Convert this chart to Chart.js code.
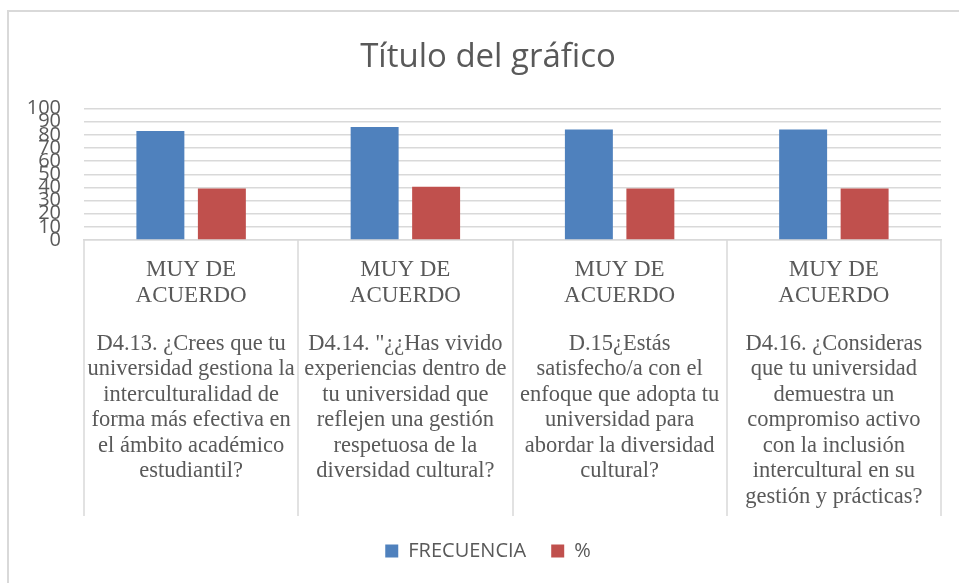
<!DOCTYPE html>
<html>
<head>
<meta charset="utf-8">
<script src="https://cdn.jsdelivr.net/npm/chart.js@4"></script>
<style>
  body { margin: 0; background: #fff; }
  #wrap { position: relative; width: 959px; height: 583px; overflow: hidden; }
  #frame { position: absolute; left: 7px; top: 10px; width: 1000px; height: 600px;
           border-left: 2px solid #D9D9D9; border-top: 2px solid #D9D9D9; }
  #chart { position: absolute; left: 0; top: 0; }
</style>
</head>
<body>
<div id="wrap">
  <div id="frame"></div>
  <canvas id="chart" width="959" height="583"></canvas>
</div>
<script>
// --- data ---
const respuesta = [
    ['MUY DE', 'ACUERDO'],
    ['MUY DE', 'ACUERDO'],
    ['MUY DE', 'ACUERDO'],
    ['MUY DE', 'ACUERDO']
];
const preguntas = [
    ['D4.13. ¿Crees que tu', 'universidad gestiona la', 'interculturalidad de', 'forma más efectiva en', 'el ámbito académico', 'estudiantil?'],
    ['D4.14. "¿¿Has vivido', 'experiencias dentro de', 'tu universidad que', 'reflejen una gestión', 'respetuosa de la', 'diversidad cultural?'],
    ['D.15¿Estás', 'satisfecho/a con el', 'enfoque que adopta tu', 'universidad para', 'abordar la diversidad', 'cultural?'],
    ['D4.16. ¿Consideras', 'que tu universidad', 'demuestra un', 'compromiso activo', 'con la inclusión', 'intercultural en su', 'gestión y prácticas?']
];
const frecuencia = [83, 86, 84, 84];
const porcentaje = [39.2, 40.5, 39.2, 39.2];

const gris = '#595959';
const linea = '#D9D9D9';

// vertical separators of the two-level category axis
const separadores = {
    id: 'separadores',
    afterLayout(chart) {
        // let the wide y labels ("100") draw left of the scale box without clipping
        chart.scales.y.left = 0;
    },
    afterDraw(chart) {
        const xs = chart.scales.x, x2 = chart.scales.x2;
        const n = respuesta.length;
        const ctx = chart.ctx;
        ctx.save();
        ctx.strokeStyle = linea;
        ctx.lineWidth = 1.5;
        for (let i = 0; i <= n; i++) {
            const px = Math.round(xs.left + i * xs.width / n);
            ctx.beginPath();
            ctx.moveTo(px, xs.top);
            ctx.lineTo(px, x2.bottom);
            ctx.stroke();
        }
        ctx.restore();
    }
};

new Chart(document.getElementById('chart'), {
    type: 'bar',
    data: {
        labels: respuesta,
        datasets: [
            { label: 'FRECUENCIA', data: frecuencia, backgroundColor: '#4F81BD' },
            { label: '%', data: porcentaje, backgroundColor: '#C0504D' }
        ]
    },
    options: {
        responsive: false,
        animation: false,
        categoryPercentage: 0.574,
        barPercentage: 0.78,
        layout: { padding: { left: 35, right: 18, top: 0, bottom: 12 } },
        plugins: {
            title: {
                display: true,
                text: 'Título del gráfico',
                color: gris,
                font: { family: 'Open Sans', size: 33, weight: 'normal' },
                padding: { top: 38, bottom: 31 }
            },
            legend: {
                position: 'bottom',
                labels: {
                    boxWidth: 13, boxHeight: 13, padding: 25,
                    color: gris,
                    font: { family: 'Open Sans', size: 20 }
                }
            }
        },
        scales: {
            y: {
                min: 0, max: 100,
                ticks: { stepSize: 10, autoSkip: false, color: gris, padding: 23,
                         font: { family: 'Open Sans', size: 20 } },
                grid: { color: linea, lineWidth: 1.5, drawTicks: false },
                border: { display: false },
                afterFit: s => { s.width = 49; }
            },
            x: {
                grid: { display: false, drawTicks: false },
                border: { color: linea, width: 1.5 },
                ticks: { autoSkip: false, maxRotation: 0, color: gris, padding: 17,
                         font: { family: 'Liberation Serif', size: 23, lineHeight: 1.13 } },
                afterFit: s => { s.height = 80; }
            },
            x2: {
                type: 'category',
                position: 'bottom',
                weight: 1,
                offset: true,
                labels: preguntas,
                grid: { display: false, drawTicks: false },
                border: { display: false },
                ticks: { autoSkip: false, maxRotation: 0, color: gris, padding: 11,
                         font: { family: 'Liberation Serif', size: 22.5, lineHeight: 1.133 } },
                afterFit: s => { s.height = 196; }
            }
        }
    },
    plugins: [separadores]
});
</script>
</body>
</html>
